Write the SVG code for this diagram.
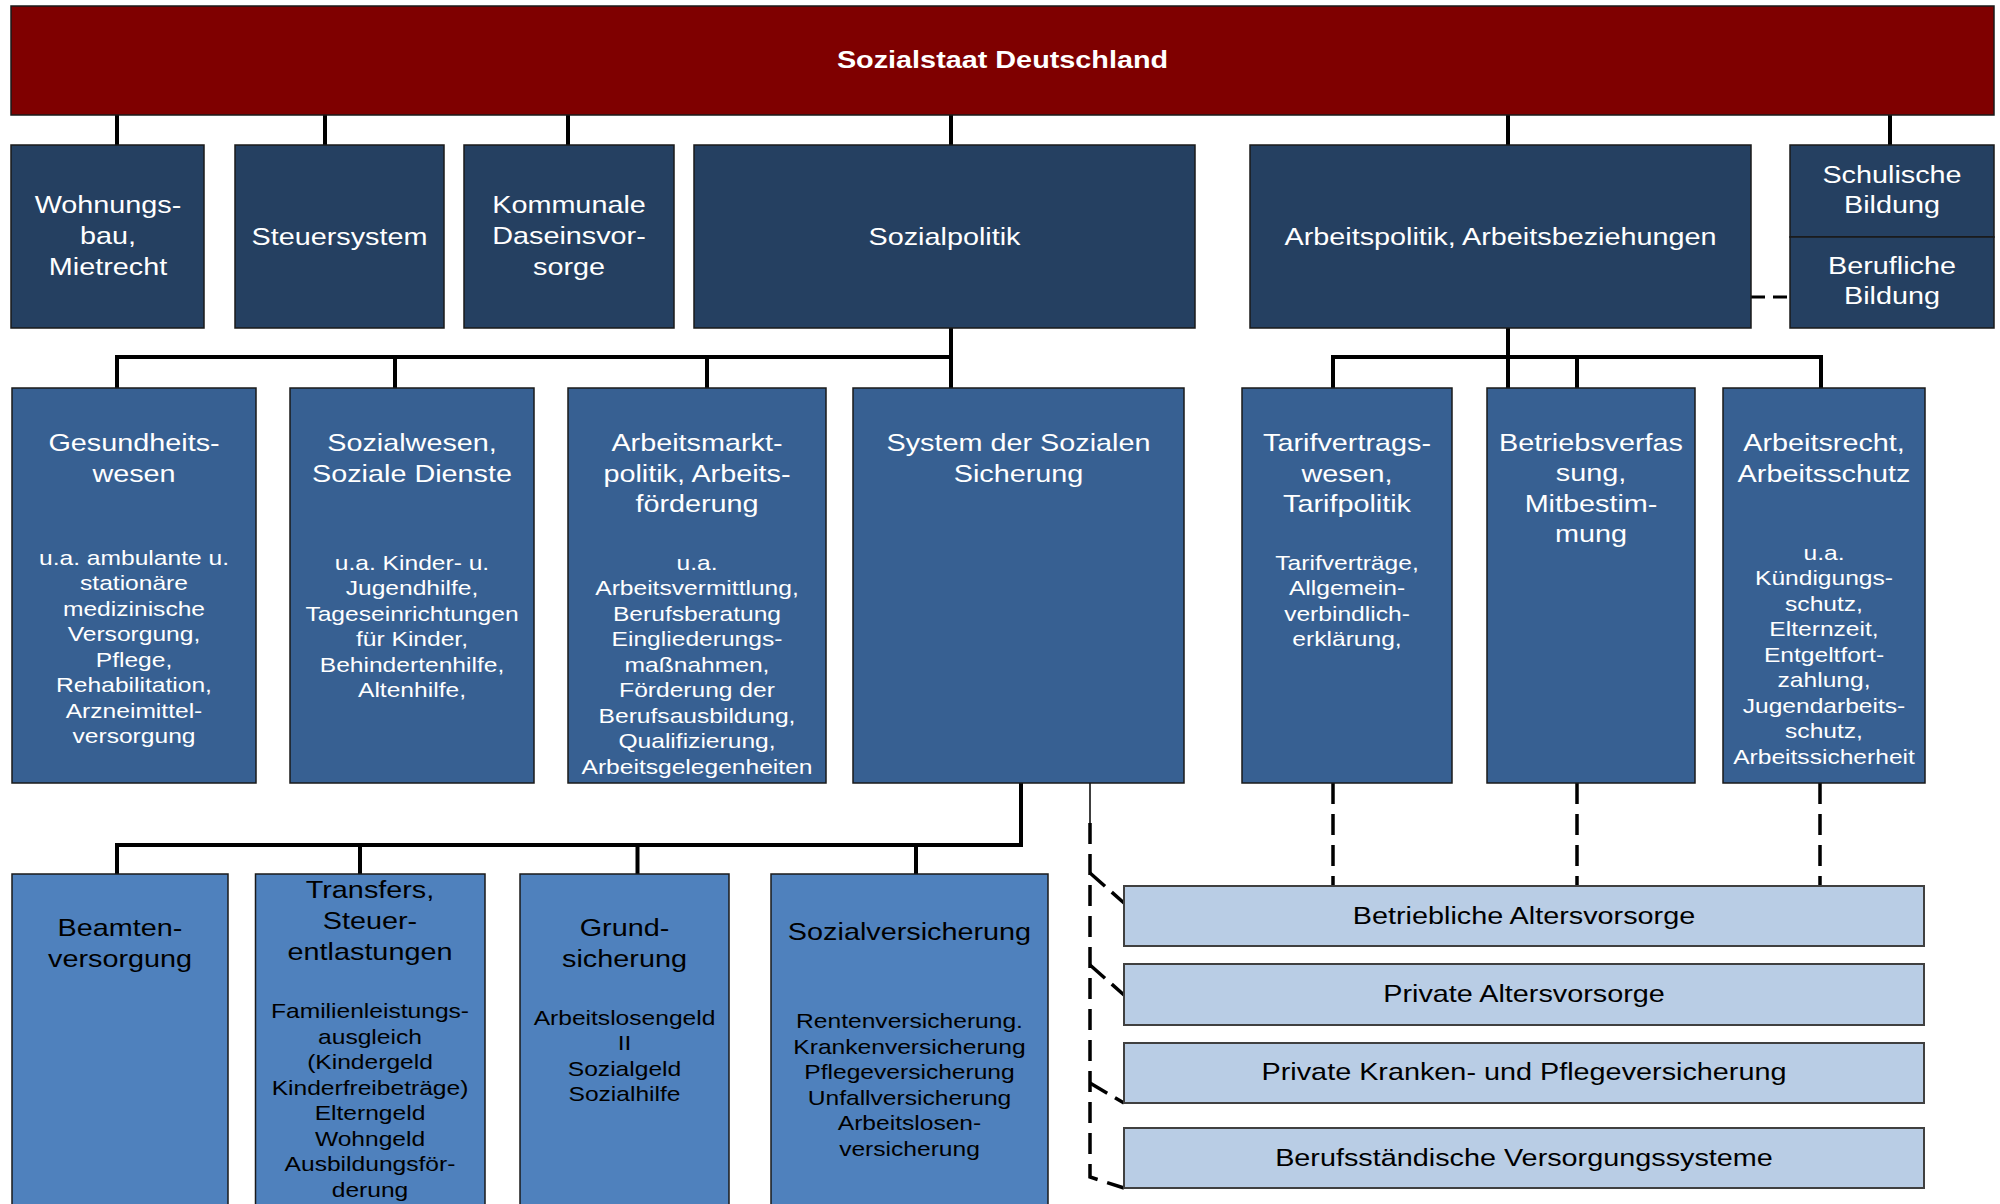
<svg xmlns="http://www.w3.org/2000/svg" width="2000" height="1204" viewBox="0 0 2000 1204">
<style>
.bx{stroke:#1a1a1a;stroke-width:1.5}
.r0{fill:#7F0000}
.r1{fill:#254061}
.r2{fill:#376092}
.r3{fill:#4F81BD}
.r4{fill:#B9CDE5;stroke:#404040;stroke-width:2}
.t{font-family:"Liberation Sans",Arial,sans-serif;font-size:24px;fill:#fff;text-anchor:middle}
.b{font-weight:bold}
.s{font-size:20.5px}
.k{fill:#000}
.c{stroke:#000;stroke-width:4;fill:none}
.d{stroke:#000;stroke-width:3.5;fill:none;stroke-dasharray:21 10}
.dg{stroke-dasharray:20 9}
.th{stroke:#000;stroke-width:1.5;fill:none}
</style>
<rect width="2000" height="1204" fill="#fff"/>
<g id="connectors">
<path class="c" d="M117,113V147M325,113V147M568,113V147M951,113V147M1508,113V147M1890,113V147"/>
<path class="c" d="M951,326V390M117,390V357H951M395,357V390M707,357V390"/>
<path class="c" d="M1508,326V390M1333,390V357H1821V390M1577,357V390"/>
<path class="c" d="M1021,781V845H117V876M360,845V876M637.5,845V876M916,845V876"/>
<path class="d" d="M1751,297H1790" style="stroke-dasharray:14 8;stroke-width:3"/>
<path class="d" d="M1333,783V887M1577,783V887M1820,783V887"/>
<path class="th" d="M1090,783V824"/>
<path class="d" d="M1090,823V1177L1124,1188"/>
<path class="d dg" d="M1090,873L1124,903M1090,965L1124,995M1090,1083L1124,1103"/>
</g>
<g id="n0"><rect class="bx r0" x="11" y="6" width="1983" height="109"/>
<g transform="translate(1002.5 0) scale(1.2 1)"><text class="t b" x="0" y="68">Sozialstaat Deutschland</text></g></g>
<g id="n1"><rect class="bx r1" x="11" y="145" width="193" height="183"/>
<g transform="translate(108 0) scale(1.2 1)"><text class="t"><tspan x="0" y="213">Wohnungs-</tspan><tspan x="0" y="244">bau,</tspan><tspan x="0" y="275">Mietrecht</tspan></text></g></g>
<g id="n2"><rect class="bx r1" x="235" y="145" width="209" height="183"/>
<g transform="translate(339.5 0) scale(1.2 1)"><text class="t" x="0" y="245">Steuersystem</text></g></g>
<g id="n3"><rect class="bx r1" x="464" y="145" width="210" height="183"/>
<g transform="translate(569 0) scale(1.2 1)"><text class="t"><tspan x="0" y="213">Kommunale</tspan><tspan x="0" y="244">Daseinsvor-</tspan><tspan x="0" y="275">sorge</tspan></text></g></g>
<g id="n4"><rect class="bx r1" x="694" y="145" width="501" height="183"/>
<g transform="translate(944.5 0) scale(1.2 1)"><text class="t" x="0" y="245">Sozialpolitik</text></g></g>
<g id="n5"><rect class="bx r1" x="1250" y="145" width="501" height="183"/>
<g transform="translate(1500.5 0) scale(1.2 1)"><text class="t" x="0" y="245">Arbeitspolitik, Arbeitsbeziehungen</text></g></g>
<g id="n6"><rect class="bx r1" x="1790" y="145" width="204" height="92"/>
<g transform="translate(1892 0) scale(1.2 1)"><text class="t"><tspan x="0" y="183">Schulische</tspan><tspan x="0" y="213">Bildung</tspan></text></g></g>
<g id="n7"><rect class="bx r1" x="1790" y="237" width="204" height="91"/>
<g transform="translate(1892 0) scale(1.2 1)"><text class="t"><tspan x="0" y="274">Berufliche</tspan><tspan x="0" y="304">Bildung</tspan></text></g></g>
<g id="n8"><rect class="bx r2" x="12" y="388" width="244" height="395"/>
<g transform="translate(134 0) scale(1.2 1)"><text class="t"><tspan x="0" y="451">Gesundheits-</tspan><tspan x="0" y="482">wesen</tspan></text>
<text class="t s"><tspan x="0" y="565">u.a. ambulante u.</tspan><tspan x="0" y="590.5">stationäre</tspan><tspan x="0" y="616">medizinische</tspan><tspan x="0" y="641.5">Versorgung,</tspan><tspan x="0" y="667">Pflege,</tspan><tspan x="0" y="692.5">Rehabilitation,</tspan><tspan x="0" y="718">Arzneimittel-</tspan><tspan x="0" y="743.5">versorgung</tspan></text></g></g>
<g id="n9"><rect class="bx r2" x="290" y="388" width="244" height="395"/>
<g transform="translate(412 0) scale(1.2 1)"><text class="t"><tspan x="0" y="451">Sozialwesen,</tspan><tspan x="0" y="482">Soziale Dienste</tspan></text>
<text class="t s"><tspan x="0" y="570">u.a. Kinder- u.</tspan><tspan x="0" y="595.5">Jugendhilfe,</tspan><tspan x="0" y="621">Tageseinrichtungen</tspan><tspan x="0" y="646.5">für Kinder,</tspan><tspan x="0" y="672">Behindertenhilfe,</tspan><tspan x="0" y="697.5">Altenhilfe,</tspan></text></g></g>
<g id="n10"><rect class="bx r2" x="568" y="388" width="258" height="395"/>
<g transform="translate(697 0) scale(1.2 1)"><text class="t"><tspan x="0" y="451">Arbeitsmarkt-</tspan><tspan x="0" y="482">politik, Arbeits-</tspan><tspan x="0" y="512">förderung</tspan></text>
<text class="t s"><tspan x="0" y="570">u.a.</tspan><tspan x="0" y="595.5">Arbeitsvermittlung,</tspan><tspan x="0" y="621">Berufsberatung</tspan><tspan x="0" y="646.5">Eingliederungs-</tspan><tspan x="0" y="672">maßnahmen,</tspan><tspan x="0" y="697.5">Förderung der</tspan><tspan x="0" y="723">Berufsausbildung,</tspan><tspan x="0" y="748.5">Qualifizierung,</tspan><tspan x="0" y="774">Arbeitsgelegenheiten</tspan></text></g></g>
<g id="n11"><rect class="bx r2" x="853" y="388" width="331" height="395"/>
<g transform="translate(1018.5 0) scale(1.2 1)"><text class="t"><tspan x="0" y="451">System der Sozialen</tspan><tspan x="0" y="482">Sicherung</tspan></text></g></g>
<g id="n12"><rect class="bx r2" x="1242" y="388" width="210" height="395"/>
<g transform="translate(1347 0) scale(1.2 1)"><text class="t"><tspan x="0" y="451">Tarifvertrags-</tspan><tspan x="0" y="482">wesen,</tspan><tspan x="0" y="512">Tarifpolitik</tspan></text>
<text class="t s"><tspan x="0" y="570">Tarifverträge,</tspan><tspan x="0" y="595.5">Allgemein-</tspan><tspan x="0" y="621">verbindlich-</tspan><tspan x="0" y="646.5">erklärung,</tspan></text></g></g>
<g id="n13"><rect class="bx r2" x="1487" y="388" width="208" height="395"/>
<g transform="translate(1591 0) scale(1.2 1)"><text class="t"><tspan x="0" y="451">Betriebsverfas</tspan><tspan x="0" y="481.5">sung,</tspan><tspan x="0" y="512">Mitbestim-</tspan><tspan x="0" y="542.5">mung</tspan></text></g></g>
<g id="n14"><rect class="bx r2" x="1723" y="388" width="202" height="395"/>
<g transform="translate(1824 0) scale(1.2 1)"><text class="t"><tspan x="0" y="451">Arbeitsrecht,</tspan><tspan x="0" y="482">Arbeitsschutz</tspan></text>
<text class="t s"><tspan x="0" y="560">u.a.</tspan><tspan x="0" y="585.5">Kündigungs-</tspan><tspan x="0" y="611">schutz,</tspan><tspan x="0" y="636.5">Elternzeit,</tspan><tspan x="0" y="662">Entgeltfort-</tspan><tspan x="0" y="687.5">zahlung,</tspan><tspan x="0" y="713">Jugendarbeits-</tspan><tspan x="0" y="738.5">schutz,</tspan><tspan x="0" y="764">Arbeitssicherheit</tspan></text></g></g>
<g id="n15"><rect class="bx r3" x="12" y="874" width="216" height="340"/>
<g transform="translate(120 0) scale(1.2 1)"><text class="t k"><tspan x="0" y="936">Beamten-</tspan><tspan x="0" y="967">versorgung</tspan></text></g></g>
<g id="n16"><rect class="bx r3" x="255.5" y="874" width="229.5" height="340"/>
<g transform="translate(370 0) scale(1.2 1)"><text class="t k"><tspan x="0" y="898">Transfers,</tspan><tspan x="0" y="929">Steuer-</tspan><tspan x="0" y="960">entlastungen</tspan></text>
<text class="t s k"><tspan x="0" y="1018.5">Familienleistungs-</tspan><tspan x="0" y="1044">ausgleich</tspan><tspan x="0" y="1069.5">(Kindergeld</tspan><tspan x="0" y="1095">Kinderfreibeträge)</tspan><tspan x="0" y="1120.5">Elterngeld</tspan><tspan x="0" y="1146">Wohngeld</tspan><tspan x="0" y="1171.5">Ausbildungsför-</tspan><tspan x="0" y="1197">derung</tspan></text></g></g>
<g id="n17"><rect class="bx r3" x="520" y="874" width="209" height="340"/>
<g transform="translate(624.5 0) scale(1.2 1)"><text class="t k"><tspan x="0" y="936">Grund-</tspan><tspan x="0" y="967">sicherung</tspan></text>
<text class="t s k"><tspan x="0" y="1025">Arbeitslosengeld</tspan><tspan x="0" y="1050.5">II</tspan><tspan x="0" y="1076">Sozialgeld</tspan><tspan x="0" y="1101.5">Sozialhilfe</tspan></text></g></g>
<g id="n18"><rect class="bx r3" x="771" y="874" width="277" height="340"/>
<g transform="translate(909.5 0) scale(1.2 1)"><text class="t k" x="0" y="940">Sozialversicherung</text>
<text class="t s k"><tspan x="0" y="1028.5">Rentenversicherung.</tspan><tspan x="0" y="1054">Krankenversicherung</tspan><tspan x="0" y="1079.5">Pflegeversicherung</tspan><tspan x="0" y="1105">Unfallversicherung</tspan><tspan x="0" y="1130.5">Arbeitslosen-</tspan><tspan x="0" y="1156">versicherung</tspan></text></g></g>
<g id="n19"><rect class="r4" x="1124" y="886" width="800" height="60"/>
<g transform="translate(1524 0) scale(1.2 1)"><text class="t k" x="0" y="924">Betriebliche Altersvorsorge</text></g></g>
<g id="n20"><rect class="r4" x="1124" y="964" width="800" height="61"/>
<g transform="translate(1524 0) scale(1.2 1)"><text class="t k" x="0" y="1002">Private Altersvorsorge</text></g></g>
<g id="n21"><rect class="r4" x="1124" y="1043" width="800" height="60"/>
<g transform="translate(1524 0) scale(1.2 1)"><text class="t k" x="0" y="1080.5">Private Kranken- und Pflegeversicherung</text></g></g>
<g id="n22"><rect class="r4" x="1124" y="1128" width="800" height="60"/>
<g transform="translate(1524 0) scale(1.2 1)"><text class="t k" x="0" y="1166">Berufsständische Versorgungssysteme</text></g></g>
</svg>
